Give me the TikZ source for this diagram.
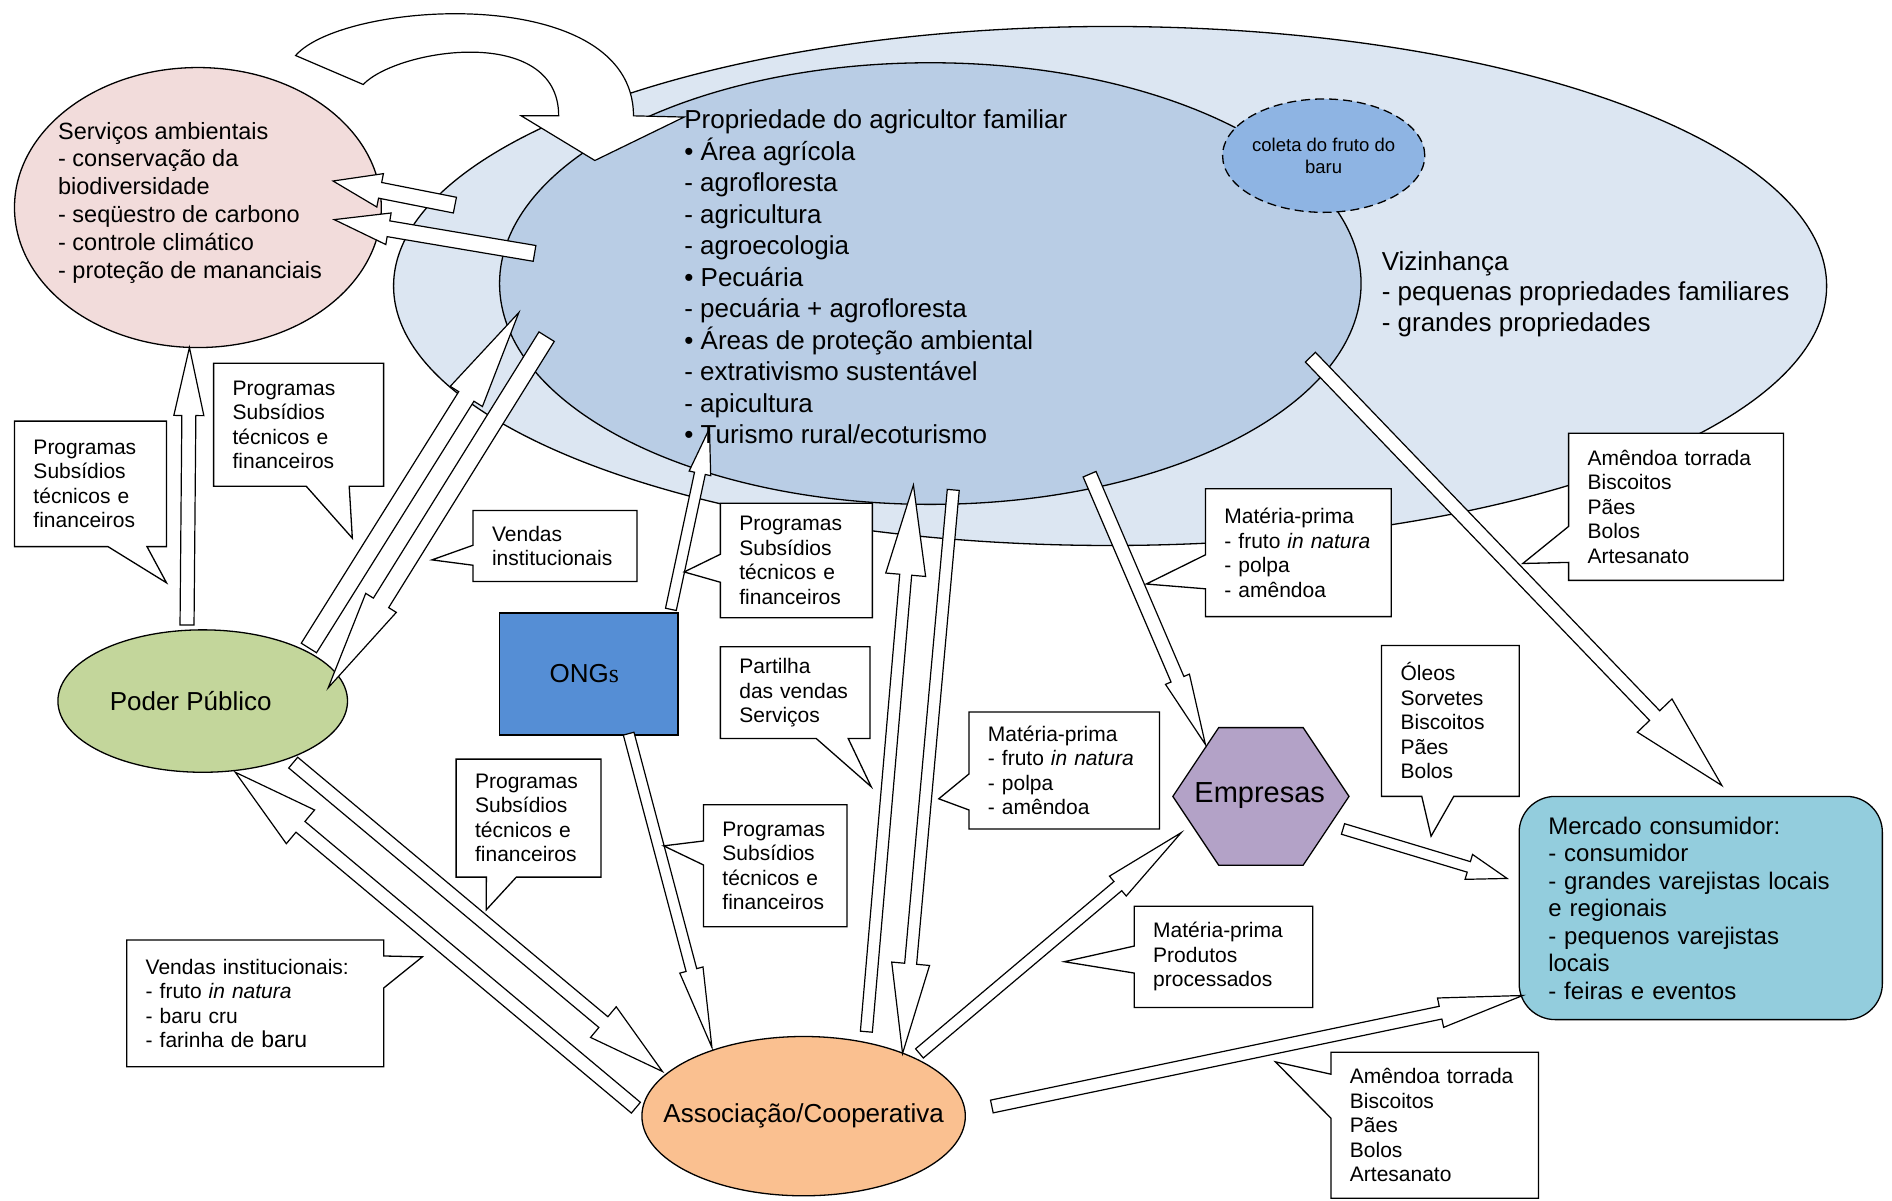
\documentclass[tikz,border=0pt]{standalone}
\usepackage{fontspec}
\setmainfont{Liberation Sans}
\newfontfamily\serifs{Liberation Serif}
\usetikzlibrary{shapes, shapes.callouts, positioning, calc}
\definecolor{vizfill}{HTML}{DCE6F2}
\definecolor{propfill}{HTML}{B9CDE5}
\definecolor{coletafill}{HTML}{8EB4E3}
\definecolor{svcfill}{HTML}{F2DCDB}
\definecolor{pubfill}{HTML}{C3D69B}
\definecolor{ongfill}{HTML}{558ED5}
\definecolor{assocfill}{HTML}{FAC090}
\definecolor{empfill}{HTML}{B3A2C7}
\definecolor{mercfill}{HTML}{93CDDD}
\tikzset{blob/.style = {
  ellipse, draw=black, line width=1.3pt, inner sep=0pt
  }}
\tikzset{note/.style = {
  % Callout box:
  rectangle callout, draw=black, fill=white, line width=1.3pt,
  inner xsep=19pt, inner ysep=0pt, callout pointer width=32pt,
  % Text
  align=left, font=\fontsize{21}{24.5}\selectfont
  }}
\tikzset{blk/.style = {
  draw=black, fill=white, line width=1.2pt, line join=miter
  }}
\tikzset{biglist/.style = {
  anchor=north west, inner sep=0pt, align=left,
  font=\fontsize{26}{31.5}\selectfont
  }}
\tikzset{bigname/.style = {font=\fontsize{26}{30}\selectfont}}
% block arrow: from, to, half shaft, half head, head length
\newcommand{\blkarrow}[5]{%
  \coordinate (ah) at ($(#2)!#5!(#1)$);
  \draw [blk] ($(#1)!#3!90:(#2)$) -- ($(ah)!#3!90:(#2)$) -- ($(ah)!#4!90:(#2)$) -- (#2)
    -- ($(ah)!#4!-90:(#2)$) -- ($(ah)!#3!-90:(#2)$) -- ($(#1)!#3!-90:(#2)$) -- cycle;}

\begin{document}
\begin{tikzpicture}[x=1.2066pt, y=-1.2066pt]
\path [use as bounding box, fill=white] (0,0) rectangle (1568,995);

% AREAS
\node (viz) [blob, fill=vizfill, minimum width=1433pt, minimum height=519pt] at (920,237) {};
\node (prop) [blob, fill=propfill, minimum width=861.5pt, minimum height=441.6pt] at (771,235) {};
\node (coleta) [blob, fill=coletafill, dash pattern=on 9pt off 5pt,
  minimum width=198pt, minimum height=113.4pt, align=center,
  font=\fontsize{18.5}{21.7}\selectfont] at (1097,129) {coleta do fruto do\\baru};
\node (svc) [blob, fill=svcfill, minimum width=366.8pt, minimum height=280pt] at (164,172) {};

% ACTORS
\node (pub) [blob, bigname, fill=pubfill, minimum width=289.6pt, minimum height=142.4pt] at (168,581)
  {\makebox[0pt]{Poder Público\hspace*{24pt}}};
\node (ong) [rectangle, draw, line width=1.3pt, bigname, fill=ongfill, minimum width=178.6pt, minimum height=121.9pt] at (488,558.5)
  {\raisebox{-6pt}{\makebox[0pt]{ONG{\serifs s}\hspace*{9pt}}}};
\node (assoc) [blob, bigname, fill=assocfill, minimum width=323.4pt, minimum height=159.3pt] at (666,925)
  {\makebox[0pt]{Associação/Cooperativa}};
\draw [line width=1.3pt, fill=empfill] (972,660) -- (1010,603) -- (1080,603) -- (1118,660) -- (1080,717) -- (1010,717) -- cycle;
\node (emp) [font=\fontsize{29}{30}\selectfont] at (1044,659) {Empresas};
\node (merc) [rectangle, rounded corners=36pt, draw, line width=1.3pt, fill=mercfill,
  minimum width=363.2pt, minimum height=223.2pt, text width=305pt, inner xsep=29pt,
  align=left, font=\fontsize{24}{27.5}\selectfont] at (1409.5,752.5)
  {Mercado consumidor:\\- consumidor\\- grandes varejistas locais\\e regionais\\- pequenos varejistas\\locais\\- feiras e eventos};

% arrow ends
\coordinate (prop-s1) at (377,170);   \coordinate (svc-t1) at (276,150);
\coordinate (prop-s2) at (443,210);   \coordinate (svc-t2) at (277,182);
\coordinate (pub-n) at (155,518);     \coordinate (svc-s) at (157,288);
\coordinate (pub-ne) at (256,537);    \coordinate (prop-sw) at (430,259);
\coordinate (prop-sw2) at (453,279);  \coordinate (pub-ne2) at (272,570);
\coordinate (ong-n) at (556,505);     \coordinate (prop-s) at (588,355);
\coordinate (ong-s) at (521,608);     \coordinate (assoc-nw) at (590,868);
\coordinate (assoc-n) at (718,855);   \coordinate (prop-b1) at (757,402);
\coordinate (prop-b2) at (790,406);   \coordinate (assoc-n2) at (748,873);
\coordinate (prop-se) at (903,393);   \coordinate (emp-nw) at (999,617);
\coordinate (viz-s) at (1086,296);    \coordinate (merc-n) at (1427,651);
\coordinate (emp-e) at (1113,687);    \coordinate (merc-w) at (1249,728);
\coordinate (assoc-ne) at (762,873);  \coordinate (emp-sw) at (979,690);
\coordinate (assoc-e) at (822,917);   \coordinate (merc-sw) at (1262,825);
\coordinate (assoc-w) at (527,918);   \coordinate (pub-se) at (195,640);
\coordinate (pub-se2) at (243,632);   \coordinate (assoc-nw2) at (549,888);

% arrows
\draw [blk] (245,46) .. controls (285,0) and (525,-15) .. (525,96) -- (567,97) -- (493,133)
  -- (432,96) -- (463,96) .. controls (463,20) and (330,40) .. (301,70) -- cycle;
\blkarrow{prop-s1}{svc-t1}{8pt}{17pt}{48pt}
\blkarrow{prop-s2}{svc-t2}{8pt}{16pt}{55pt}
\blkarrow{pub-n}{svc-s}{7pt}{15pt}{68pt}
\blkarrow{pub-ne}{prop-sw}{9pt}{19pt}{99pt}
\blkarrow{prop-sw2}{pub-ne2}{9pt}{18pt}{100pt}
\blkarrow{ong-n}{prop-s}{5.5pt}{11pt}{46pt}
\blkarrow{ong-s}{assoc-nw}{5.5pt}{12pt}{80pt}
\blkarrow{assoc-n}{prop-b1}{6pt}{20pt}{90pt}
\blkarrow{prop-b2}{assoc-n2}{6pt}{19pt}{90pt}
\blkarrow{prop-se}{emp-nw}{7pt}{13pt}{71pt}
\blkarrow{viz-s}{merc-n}{7pt}{24pt}{97pt}
\blkarrow{emp-e}{merc-w}{5.5pt}{13pt}{40pt}
\blkarrow{assoc-ne}{emp-sw}{6pt}{13pt}{83pt}
\blkarrow{assoc-e}{merc-sw}{6.5pt}{15pt}{84pt}
\blkarrow{assoc-w}{pub-se}{7pt}{22pt}{85pt}
\blkarrow{pub-se2}{assoc-nw2}{7pt}{20pt}{77pt}

% CALLOUTS
\node (c1) [note, text width=114pt, minimum height=125.5pt, callout absolute pointer={(138,483)}, callout pointer width=39pt] at (75,401)
  {Programas\\Subsídios\\técnicos e\\financeiros};
\node (c2) [note, text width=132pt, minimum height=123pt, callout absolute pointer={(292,446)}, callout pointer width=43pt] at (247.5,352)
  {Programas\\Subsídios\\técnicos e\\financeiros};
\node (c3) [note, text width=126pt, minimum height=71pt, callout absolute pointer={(358,464)}, callout pointer width=20pt] at (460,452.5)
  {Vendas\\institucionais};
\node (c4) [note, text width=114pt, minimum height=114.6pt, callout absolute pointer={(567,474)}, callout pointer width=28pt] at (660,464.5)
  {Programas\\Subsídios\\técnicos e\\financeiros};
\node (c5) [note, text width=111.6pt, minimum height=91.7pt, callout absolute pointer={(722,652)}] at (659,574)
  {Partilha\\das vendas\\Serviços};
\node (c6) [note, text width=105.6pt, minimum height=121.9pt, callout absolute pointer={(550,701)}, callout pointer width=24pt] at (642.5,717.5)
  {Programas\\Subsídios\\técnicos e\\financeiros};
\node (c7) [note, text width=106.8pt, minimum height=118pt, callout absolute pointer={(403,754)}, callout pointer width=30pt] at (438,678)
  {Programas\\Subsídios\\técnicos e\\financeiros};
\node (c8) [note, text width=219pt, minimum height=126.7pt, callout absolute pointer={(350,793)}] at (211.5,831.5)
  {Vendas institucionais:\\- fruto \textit{in natura}\\- baru cru\\- farinha de {\fontsize{23}{24.5}\selectfont baru}};
\node (c9) [note, text width=152.6pt, minimum height=117pt, callout absolute pointer={(778,662)}, callout pointer width=36pt] at (882,638.5)
  {Matéria-prima\\- fruto \textit{in natura}\\- polpa\\- amêndoa};
\node (c10) [note, text width=147.8pt, minimum height=127.9pt, callout absolute pointer={(950,484)}, callout pointer width=34pt] at (1076,458)
  {Matéria-prima\\- fruto \textit{in natura}\\- polpa\\- amêndoa};
\node (c11) [note, text width=176.8pt, minimum height=147.2pt, callout absolute pointer={(1262,467)}, callout pointer width=36pt] at (1389,420)
  {Amêndoa torrada\\Biscoitos\\Pães\\Bolos\\Artesanato};
\node (c12) [note, text width=99.6pt, minimum height=150.8pt, callout absolute pointer={(1186,693)}] at (1202,597.5)
  {Óleos\\Sorvetes\\Biscoitos\\Pães\\Bolos};
\node (c13) [note, text width=140.6pt, minimum height=101.4pt, callout absolute pointer={(882,797)}, callout pointer width=27pt] at (1014,793)
  {Matéria-prima\\Produtos\\processados};
\node (c14) [note, text width=169.5pt, minimum height=146pt, callout absolute pointer={(1057,880)}, callout pointer width=44pt] at (1189,932.5)
  {Amêndoa torrada\\Biscoitos\\Pães\\Bolos\\Artesanato};

% TEXTS
\node (svcT) [biglist, font=\fontsize{23.5}{27.8}\selectfont] at (48,101)
  {Serviços ambientais\\- conservação da\\biodiversidade\\- seqüestro de carbono\\- controle climático\\- proteção de mananciais};
\node (propT) [biglist] at (567,91)
  {Propriedade do agricultor familiar\\• Área agrícola\\- agrofloresta\\- agricultura\\- agroecologia\\• Pecuária\\- pecuária + agrofloresta\\• Áreas de proteção ambiental\\- extrativismo sustentável\\- apicultura\\• Turismo rural/ecoturismo};
\node (vizT) [biglist, font=\fontsize{26}{30.8}\selectfont] at (1145,208)
  {Vizinhança\\- pequenas propriedades familiares\\- grandes propriedades};
\end{tikzpicture}
\end{document}
